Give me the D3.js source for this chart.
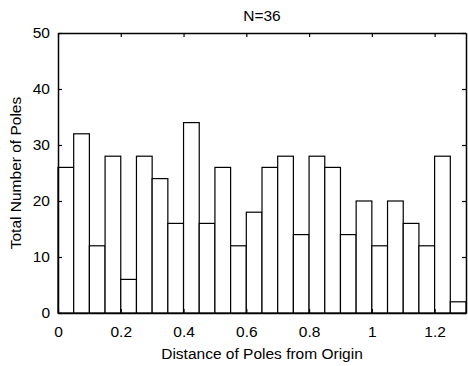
<!DOCTYPE html>
<html>
<head>
<meta charset="utf-8">
<script src="https://cdn.jsdelivr.net/npm/d3@7"></script>
<style>
  body { margin: 0; background: #fff; }
  text { font-family: "Liberation Sans", Arial, sans-serif; fill: #000; }
</style>
</head>
<body>
<div id="chart"></div>
<script>
// histogram bins (width 0.05) and counts
var binStart = [0, 0.05, 0.1, 0.15, 0.2, 0.25, 0.3, 0.35, 0.4, 0.45, 0.5, 0.55, 0.6,
                0.65, 0.7, 0.75, 0.8, 0.85, 0.9, 0.95, 1.0, 1.05, 1.1, 1.15, 1.2, 1.25];
var counts = [26, 32, 12, 28, 6, 28, 24, 16, 34, 16, 26, 12, 18,
              26, 28, 14, 28, 26, 14, 20, 12, 20, 16, 12, 28, 2];
var binWidth = 0.05;
var xTicks = [0, 0.2, 0.4, 0.6, 0.8, 1, 1.2];
var yTicks = [0, 10, 20, 30, 40, 50];
var title = "N=36";
var xLabel = "Distance of Poles from Origin";
var yLabel = "Total Number of Poles";

// set the dimensions and margins of the graph
var W = 468, H = 366;
var margin = {top: 33, right: 2, bottom: 53, left: 58},
    width = W - margin.left - margin.right,
    height = H - margin.top - margin.bottom;
var fontSize = "15.5px";

var x = d3.scaleLinear().domain([0, 1.3]).range([0, width]);
var y = d3.scaleLinear().domain([0, 50]).range([height, 0]);

var svg = d3.select("#chart").append("svg")
    .attr("width", W)
    .attr("height", H);

var g = svg.append("g")
    .attr("transform", "translate(" + margin.left + "," + margin.top + ")");

// bars
g.selectAll("rect.bar")
    .data(counts)
  .enter().append("rect")
    .attr("class", "bar")
    .attr("x", function(d, i) { return x(binStart[i]); })
    .attr("width", function(d, i) { return x(binStart[i] + binWidth) - x(binStart[i]); })
    .attr("y", function(d) { return y(d); })
    .attr("height", function(d) { return height - y(d); })
    .attr("fill", "#fff")
    .attr("stroke", "#000")
    .attr("stroke-width", 1.2);

function fmt(d) { return d3.format("~g")(d); }

// axes, ticks pointing inward
g.append("g")
    .attr("transform", "translate(0," + height + ")")
    .call(d3.axisBottom(x).tickValues(xTicks).tickSizeInner(-4).tickSizeOuter(0).tickPadding(13).tickFormat(fmt));
g.append("g")
    .call(d3.axisTop(x).tickValues(xTicks).tickSizeInner(-4).tickSizeOuter(0).tickFormat(""));
g.append("g")
    .call(d3.axisLeft(y).tickValues(yTicks).tickSizeInner(-4).tickSizeOuter(0).tickPadding(8));
g.append("g")
    .attr("transform", "translate(" + width + ",0)")
    .call(d3.axisRight(y).tickValues(yTicks).tickSizeInner(-4).tickSizeOuter(0).tickFormat(""));

g.selectAll(".domain").attr("stroke", "#000").attr("stroke-width", 1.5);
g.selectAll(".tick line").attr("stroke", "#000").attr("stroke-width", 1.2);
g.selectAll(".tick text")
    .style("font-family", "'Liberation Sans', Arial, sans-serif")
    .style("font-size", fontSize)
    .attr("fill", "#000");

// title and axis labels
svg.append("text")
    .attr("x", margin.left + width / 2)
    .attr("y", 21)
    .attr("text-anchor", "middle")
    .style("font-size", fontSize)
    .text(title);

svg.append("text")
    .attr("x", margin.left + width / 2)
    .attr("y", 359)
    .attr("text-anchor", "middle")
    .style("font-size", fontSize)
    .text(xLabel);

svg.append("text")
    .attr("transform", "translate(21," + (margin.top + height / 2) + ") rotate(-90)")
    .attr("text-anchor", "middle")
    .style("font-size", fontSize)
    .text(yLabel);
</script>
</body>
</html>
